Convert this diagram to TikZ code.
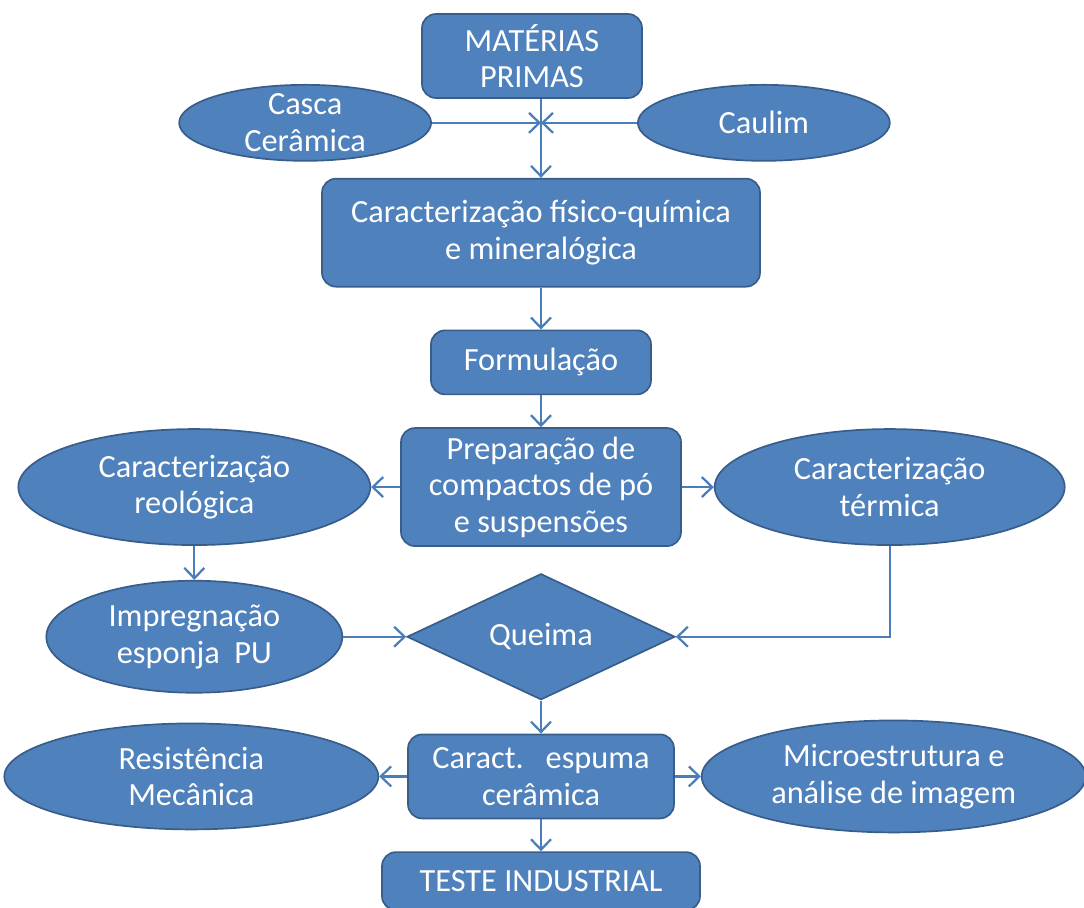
\documentclass[tikz,border=0pt]{standalone}
\usepackage{fontspec}
\setmainfont{Carlito}
\usetikzlibrary{arrows.meta,positioning,shapes.geometric}
\definecolor{boxfill}{HTML}{4F81BD}
\definecolor{boxline}{HTML}{385D8A}
\definecolor{arrline}{HTML}{4A7EBB}

\begin{document}
\begin{tikzpicture}[
  node distance=8mm and 8mm,
  box/.style={draw=boxline, line width=1.2pt, fill=boxfill, rounded corners=3.5mm, align=center, text=white, inner sep=0pt, font=\fontsize{23}{26}\selectfont},
  oval/.style={box, ellipse, inner xsep=0pt, inner ysep=-2mm},
  decision/.style={box, diamond, aspect=2, rounded corners=0pt},
  arr/.style={-{Straight Barb[length=2.6mm,width=5mm]}, draw=arrline, line width=1.6pt}
]
\useasboundingbox (0,0) rectangle (271mm,-227mm);

\node[box, minimum width=55mm, minimum height=21mm] (mat) at (133mm,-14mm) {MATÉRIAS\\PRIMAS};
\node[box, minimum width=109.5mm, minimum height=27mm, below=19.75mm of mat, xshift=2.25mm] (car) {Caracterização físico-química\\e mineralógica};
\coordinate (join) at ([yshift=-6mm]mat.south -| car.north);
\node[oval, minimum width=63mm, minimum height=19mm, left=27.25mm of join] (casca) {Casca\\Cerâmica};
\node[oval, minimum width=63mm, minimum height=19mm, right=24mm of join] (caulim) {Caulim};

\node[box, minimum width=55mm, minimum height=16mm, below=10.5mm of car] (form) {Formulação};
\node[box, minimum width=70mm, minimum height=29.5mm, below=8mm of form] (prep) {Preparação de\\compactos de pó\\e suspensões};
\node[oval, minimum width=88mm, minimum height=29mm, left=7.25mm of prep] (reol) {Caracterização\\reológica};
\node[oval, minimum width=87.5mm, minimum height=29mm, right=8mm of prep] (term) {Caracterização\\térmica};
\node[oval, minimum width=74mm, minimum height=28mm, below=8.5mm of reol] (imp) {Impregnação\\esponja\ \ PU};
\node[decision, minimum width=67mm, minimum height=31.5mm, below=6.5mm of prep] (queima) {Queima};

\node[box, minimum width=66.5mm, minimum height=21mm, below=8.25mm of queima] (caract) {Caract.\ \ \ espuma\\cerâmica};
\node[oval, minimum width=93.5mm, minimum height=26.5mm, left=7mm of caract] (resist) {Resistência\\Mecânica};
\node[oval, minimum width=96mm, minimum height=28mm, right=6.5mm of caract] (micro) {Microestrutura e\\análise de imagem};
\node[box, minimum width=79.5mm, minimum height=14.5mm, below=8mm of caract] (teste) {TESTE INDUSTRIAL};

% raw materials meet in the middle
\draw[arr] (casca) -- (join);
\draw[arr] (caulim) -- (join);
\draw[arr] (mat.south -| join) -- (car.north);

\draw[arr] (car) -- (form);
\draw[arr] (form) -- (prep);
\draw[arr] (prep) -- (reol);
\draw[arr] (prep) -- (term);
\draw[arr] (reol) -- (imp);
\draw[arr] (imp) -- (queima);
\draw[arr] (term.south) |- (queima.east);

\draw[arr] (queima) -- (caract);
\draw[arr] (caract) -- (resist);
\draw[arr] (caract) -- (micro);
\draw[arr] (caract) -- (teste);
\end{tikzpicture}
\end{document}
